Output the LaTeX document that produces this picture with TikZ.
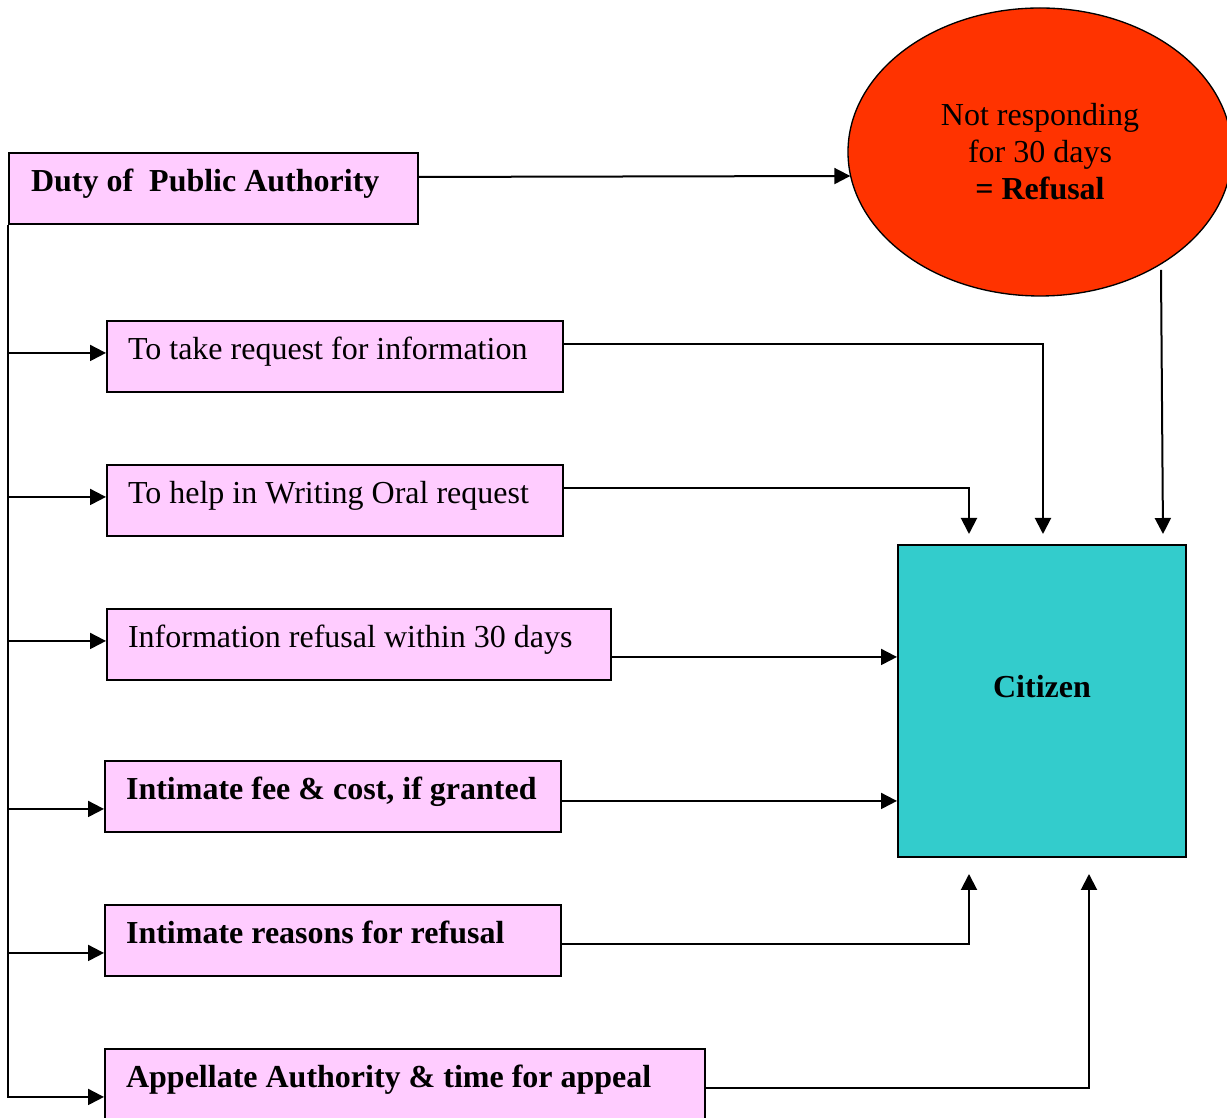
\documentclass[tikz,border=0pt]{standalone}
\usepackage{fontspec}
\setmainfont{Liberation Serif}
\usetikzlibrary{arrows.meta,shapes.geometric}
\definecolor{dutypink}{HTML}{FFCCFF}
\definecolor{citteal}{HTML}{33CCCC}
\definecolor{refred}{HTML}{FF3300}
\begin{document}
\begin{tikzpicture}[x=0.375pt,y=-0.375pt,line width=0.75pt,
  >={Triangle[length=6pt,width=6pt]},
  dbox/.style={draw,fill=dutypink,anchor=north west,align=flush left,inner xsep=7.9pt,
    minimum height=26.6pt,text height=8.5pt,text depth=6.3pt,text width=#1,
    font=\fontsize{12}{14}\selectfont},
  refell/.style={draw,ellipse,fill=refred,line width=0.5pt,minimum width=144pt,
    minimum height=108pt,align=center,font=\fontsize{12}{13.9}\selectfont},
  citbox/.style={draw,fill=citteal,anchor=north west,minimum width=108pt,
    minimum height=117pt,text depth=11.3pt,font=\fontsize{12}{14}\selectfont\bfseries}]
\useasboundingbox (0,0) rectangle (1227,1118);
% boxes
\node[dbox=136.9pt,inner xsep=8.25pt] (duty) at (8,152) {\textbf{Duty of\ \ Public Authority}};
\node[dbox=155.2pt] (b1) at (106,320) {To take request for information};
\node[dbox=155.2pt] (b2) at (106,464) {To help in Writing Oral request};
\node[dbox=173.2pt] (b3) at (106,608) {Information refusal within 30 days};
\node[dbox=155.2pt] (b4) at (104,760) {\textbf{Intimate fee \& cost, if granted}};
\node[dbox=155.2pt] (b5) at (104,904) {\textbf{Intimate reasons for refusal}};
\node[dbox=209.2pt] (b6) at (104,1048) {\textbf{Appellate Authority \& time for appeal}};
\node[refell] (ell) at (1040,152) {Not responding\\for 30 days\\\textbf{= Refusal}};
\node[citbox] (cit) at (897,544) {Citizen};
% left spine
\foreach \b/\s in {b1/-3.5,b2/-3.5,b3/-3.5,b4/12.5,b5/12.5,b6/12.5}
  \draw[->] (duty.south west) |- ([shift={(0,\s)}]\b.west);
% to the citizen
\draw[->] ([shift={(0,-11.5)}]duty.east) -- ([shift={(3,24)}]ell.west);
\coordinate (o1) at ([shift={(0,-12.5)}]b1.east);
\coordinate (o2) at ([shift={(0,-12.5)}]b2.east);
\coordinate (o3) at ([shift={(0,12.5)}]b3.east);
\coordinate (o4) at ([shift={(0,4.5)}]b4.east);
\coordinate (o5) at ([shift={(0,3.5)}]b5.east);
\coordinate (o6) at ([shift={(0,3.5)}]b6.east);
\draw[->] (o1) -| ([shift={(1,-10)}]cit.north);
\draw[->] (o2) -| ([shift={(-73,-10)}]cit.north);
\draw[->] ([shift={(121,118)}]ell.center) -- ([shift={(121,-10)}]cit.north);
\draw[->] (o3) -- (o3 -| cit.west);
\draw[->] (o4) -- (o4 -| cit.west);
\draw[->] (o5) -| ([shift={(-73,16)}]cit.south);
\draw[->] (o6) -| ([shift={(47,16)}]cit.south);
\end{tikzpicture}
\end{document}
